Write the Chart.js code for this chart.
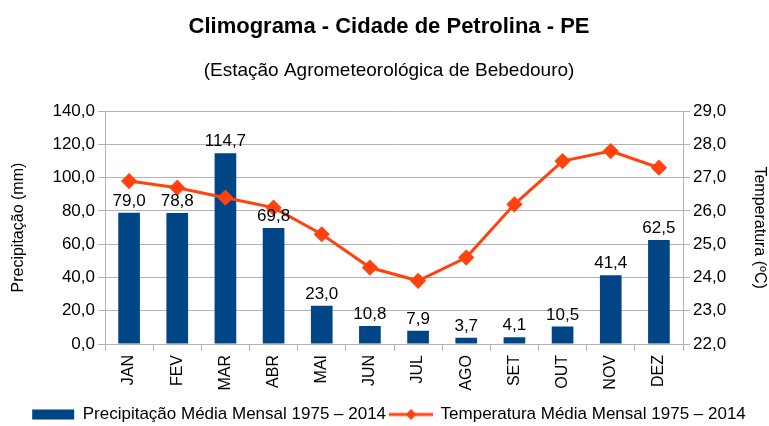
<!DOCTYPE html>
<html>
<head>
<meta charset="utf-8">
<script src="https://cdn.jsdelivr.net/npm/chart.js@4.4.0/dist/chart.umd.min.js"></script>
<style>
  html, body { margin: 0; padding: 0; background: #fff; }
  #wrap { width: 769px; height: 426px; }
</style>
</head>
<body>
<div id="wrap"><canvas id="climaChart"></canvas></div>
<script>
var meses = ['JAN', 'FEV', 'MAR', 'ABR', 'MAI', 'JUN', 'JUL', 'AGO', 'SET', 'OUT', 'NOV', 'DEZ'];
var precipitacao = [79.0, 78.8, 114.7, 69.8, 23.0, 10.8, 7.9, 3.7, 4.1, 10.5, 41.4, 62.5];
var temperatura = [26.9, 26.7, 26.4, 26.1, 25.3, 24.3, 23.9, 24.6, 26.2, 27.5, 27.8, 27.3];

var azul = '#004586';
var laranja = '#ff420e';

function virgula(v) {
    return v.toFixed(1).replace('.', ',');
}

// little legend symbol: line with a diamond in the middle
var simboloLinha = document.createElement('canvas');
simboloLinha.width = 44;
simboloLinha.height = 14;
(function () {
    var c = simboloLinha.getContext('2d');
    c.strokeStyle = laranja;
    c.fillStyle = laranja;
    c.lineWidth = 3;
    c.beginPath();
    c.moveTo(0, 7);
    c.lineTo(44, 7);
    c.stroke();
    c.beginPath();
    c.moveTo(22, 1.5);
    c.lineTo(27.5, 7);
    c.lineTo(22, 12.5);
    c.lineTo(16.5, 7);
    c.closePath();
    c.fill();
})();

// labels above the bars
var rotulos = {
    id: 'rotulos',
    afterDatasetsDraw: function (chart) {
        var ctx = chart.ctx;
        var meta = chart.getDatasetMeta(1);
        ctx.save();
        ctx.font = '17px "Liberation Sans", Arial, sans-serif';
        ctx.fillStyle = '#000';
        ctx.textAlign = 'center';
        ctx.textBaseline = 'bottom';
        meta.data.forEach(function (bar, i) {
            ctx.fillText(virgula(precipitacao[i]), bar.x, bar.y - 3);
        });
        ctx.restore();
    }
};

Chart.defaults.font.family = '"Liberation Sans", Arial, sans-serif';
Chart.defaults.color = '#000';

const ctx = document.getElementById('climaChart').getContext('2d');
new Chart(ctx, {
    data: {
        labels: meses,
        datasets: [{
            type: 'line',
            label: 'Temperatura Média Mensal 1975 – 2014',
            data: temperatura,
            yAxisID: 'yT',
            borderColor: laranja,
            backgroundColor: laranja,
            borderWidth: 3,
            pointStyle: 'rectRot',
            pointRadius: 6,
            pointHoverRadius: 6,
            tension: 0,
            order: 0
        }, {
            type: 'bar',
            label: 'Precipitação Média Mensal 1975 – 2014',
            data: precipitacao,
            yAxisID: 'yP',
            backgroundColor: azul,
            borderColor: azul,
            categoryPercentage: 1,
            barPercentage: 0.45,
            order: 1
        }]
    },
    options: {
        responsive: true,
        maintainAspectRatio: false,
        animation: false,
        layout: { padding: { left: 9, right: 0, top: 0, bottom: -7 } },
        plugins: {
            title: {
                display: true,
                text: 'Climograma - Cidade de Petrolina - PE',
                font: { size: 22, weight: 'bold' },
                padding: { top: 14, bottom: 1 }
            },
            subtitle: {
                display: true,
                text: '(Estação Agrometeorológica de Bebedouro)',
                font: { size: 19 },
                padding: { top: 18, bottom: 29 }
            },
            legend: {
                position: 'bottom',
                reverse: true,
                labels: {
                    usePointStyle: true,
                    pointStyleWidth: 42,
                    boxHeight: 10,
                    font: { size: 17 },
                    padding: 4,
                    generateLabels: function (chart) {
                        var items = Chart.defaults.plugins.legend.labels.generateLabels(chart);
                        items.forEach(function (it) {
                            if (it.datasetIndex === 0) {
                                it.pointStyle = simboloLinha;
                            } else {
                                it.pointStyle = 'rect';
                                it.lineWidth = 0;
                            }
                        });
                        return items;
                    }
                }
            },
            tooltip: { enabled: false }
        },
        scales: {
            x: {
                grid: { display: true, drawOnChartArea: false, offset: true, color: '#b3b3b3', tickLength: 7 },
                border: { color: '#b3b3b3' },
                ticks: { maxRotation: 90, minRotation: 90, font: { size: 16 }, padding: 4 },
                afterFit: function (s) { s.height = 58; }
            },
            yP: {
                position: 'left',
                min: 0,
                max: 140,
                grid: { color: '#b3b3b3', tickLength: 7 },
                border: { color: '#b3b3b3' },
                ticks: { stepSize: 20, font: { size: 17 }, padding: 3, callback: function (v) { return virgula(v); } },
                title: { display: true, text: 'Precipitação (mm)', font: { size: 16 }, padding: 0 },
                afterFit: function (s) { s.width = 96; }
            },
            yT: {
                position: 'right',
                min: 22,
                max: 29,
                grid: { drawOnChartArea: false, color: '#b3b3b3', tickLength: 7 },
                border: { color: '#b3b3b3' },
                ticks: { stepSize: 1, font: { size: 17 }, padding: 3, callback: function (v) { return virgula(v); } },
                title: { display: true, text: 'Temperatura (ºC)', font: { size: 16 }, padding: 0 },
                afterFit: function (s) { s.width = 86; }
            }
        }
    },
    plugins: [rotulos]
});
</script>
</body>
</html>
